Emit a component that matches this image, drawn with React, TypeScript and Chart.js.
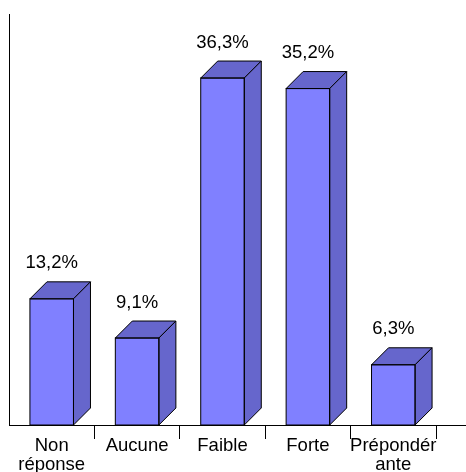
import React, { useEffect, useRef } from "react";
import { Chart, registerables } from "chart.js";

Chart.register(...registerables);

const categories: (string | string[])[] = [["Non", "réponse"], "Aucune", "Faible", "Forte", ["Prépondér", "ante"]];
const values: number[] = [13.2, 9.1, 36.3, 35.2, 6.3];
const valueLabels: string[] = ["13,2%", "9,1%", "36,3%", "35,2%", "6,3%"];

const FRONT = "#8080FF";
const SIDE = "#6666CC";
const DEPTH = 17;
const FONT_FAMILY = "'Liberation Sans', Arial, sans-serif";

const bar3dPlugin = {
  id: "bar3d",
  afterDatasetsDraw(chart: any) {
    const ctx = chart.ctx;
    const meta = chart.getDatasetMeta(0);
    ctx.save();
    ctx.lineWidth = 1;
    ctx.strokeStyle = "#000";
    ctx.lineJoin = "miter";
    meta.data.forEach((bar: any, i: number) => {
      const { x, y, base, width } = bar.getProps(["x", "y", "base", "width"], true);
      const l = x - width / 2;
      const r = x + width / 2;
      const d = DEPTH;
      // top face
      ctx.beginPath();
      ctx.moveTo(l, y);
      ctx.lineTo(l + d, y - d);
      ctx.lineTo(r + d, y - d);
      ctx.lineTo(r, y);
      ctx.closePath();
      ctx.fillStyle = SIDE;
      ctx.fill();
      ctx.stroke();
      // side face
      ctx.beginPath();
      ctx.moveTo(r, y);
      ctx.lineTo(r + d, y - d);
      ctx.lineTo(r + d, base - d);
      ctx.lineTo(r, base);
      ctx.closePath();
      ctx.fillStyle = SIDE;
      ctx.fill();
      ctx.stroke();
      // front outline
      ctx.strokeRect(l, y, width, base - y);
      // value label
      ctx.fillStyle = "#000";
      ctx.font = `18.5px ${FONT_FAMILY}`;
      ctx.textAlign = "center";
      ctx.textBaseline = "alphabetic";
      ctx.fillText(valueLabels[i], x, y - 30.5);
    });
    // extend the category axis line to the right edge
    const area = chart.chartArea;
    ctx.beginPath();
    ctx.moveTo(area.right, area.bottom + 0.5);
    ctx.lineTo(chart.width, area.bottom + 0.5);
    ctx.stroke();
    ctx.restore();
  },
};

export default function App() {
  const canvasRef = useRef<HTMLCanvasElement | null>(null);

  useEffect(() => {
    if (!canvasRef.current) return;
    const chart = new Chart(canvasRef.current, {
      type: "bar",
      data: {
        labels: categories,
        datasets: [
          {
            data: values,
            backgroundColor: FRONT,
            borderColor: "#000",
            borderWidth: 0,
            categoryPercentage: 1,
            barPercentage: 0.51,
          },
        ],
      },
      options: {
        animation: false,
        responsive: true,
        maintainAspectRatio: false,
        layout: { padding: { left: 9, top: 14, right: 30, bottom: 0 } },
        plugins: {
          legend: { display: false },
          tooltip: { enabled: false },
          title: { display: false },
        },
        scales: {
          x: {
            grid: {
              display: true,
              offset: true,
              drawOnChartArea: false,
              drawTicks: true,
              tickLength: 14,
              color: (c: any) => (c.index === 0 ? "rgba(0,0,0,0)" : "#000"),
            },
            border: { display: true, color: "#000", width: 1 },
            ticks: {
              color: "#000",
              font: { family: FONT_FAMILY, size: 18.5, lineHeight: 1.0 },
              padding: -2,
              maxRotation: 0,
              autoSkip: false,
            },
            afterFit: (scale: any) => {
              scale.height = 47;
            },
          },
          y: {
            min: 0,
            max: 43,
            grid: { display: false, drawTicks: false },
            border: { display: true, color: "#000", width: 1 },
            ticks: { display: false },
            afterFit: (scale: any) => {
              scale.width = 0;
            },
          },
        },
      },
      plugins: [bar3dPlugin],
    });
    return () => chart.destroy();
  }, []);

  return (
    <div style={{ position: "absolute", left: 0, top: 0, width: 466, height: 472, background: "#fff" }}>
      <canvas ref={canvasRef} />
    </div>
  );
}
